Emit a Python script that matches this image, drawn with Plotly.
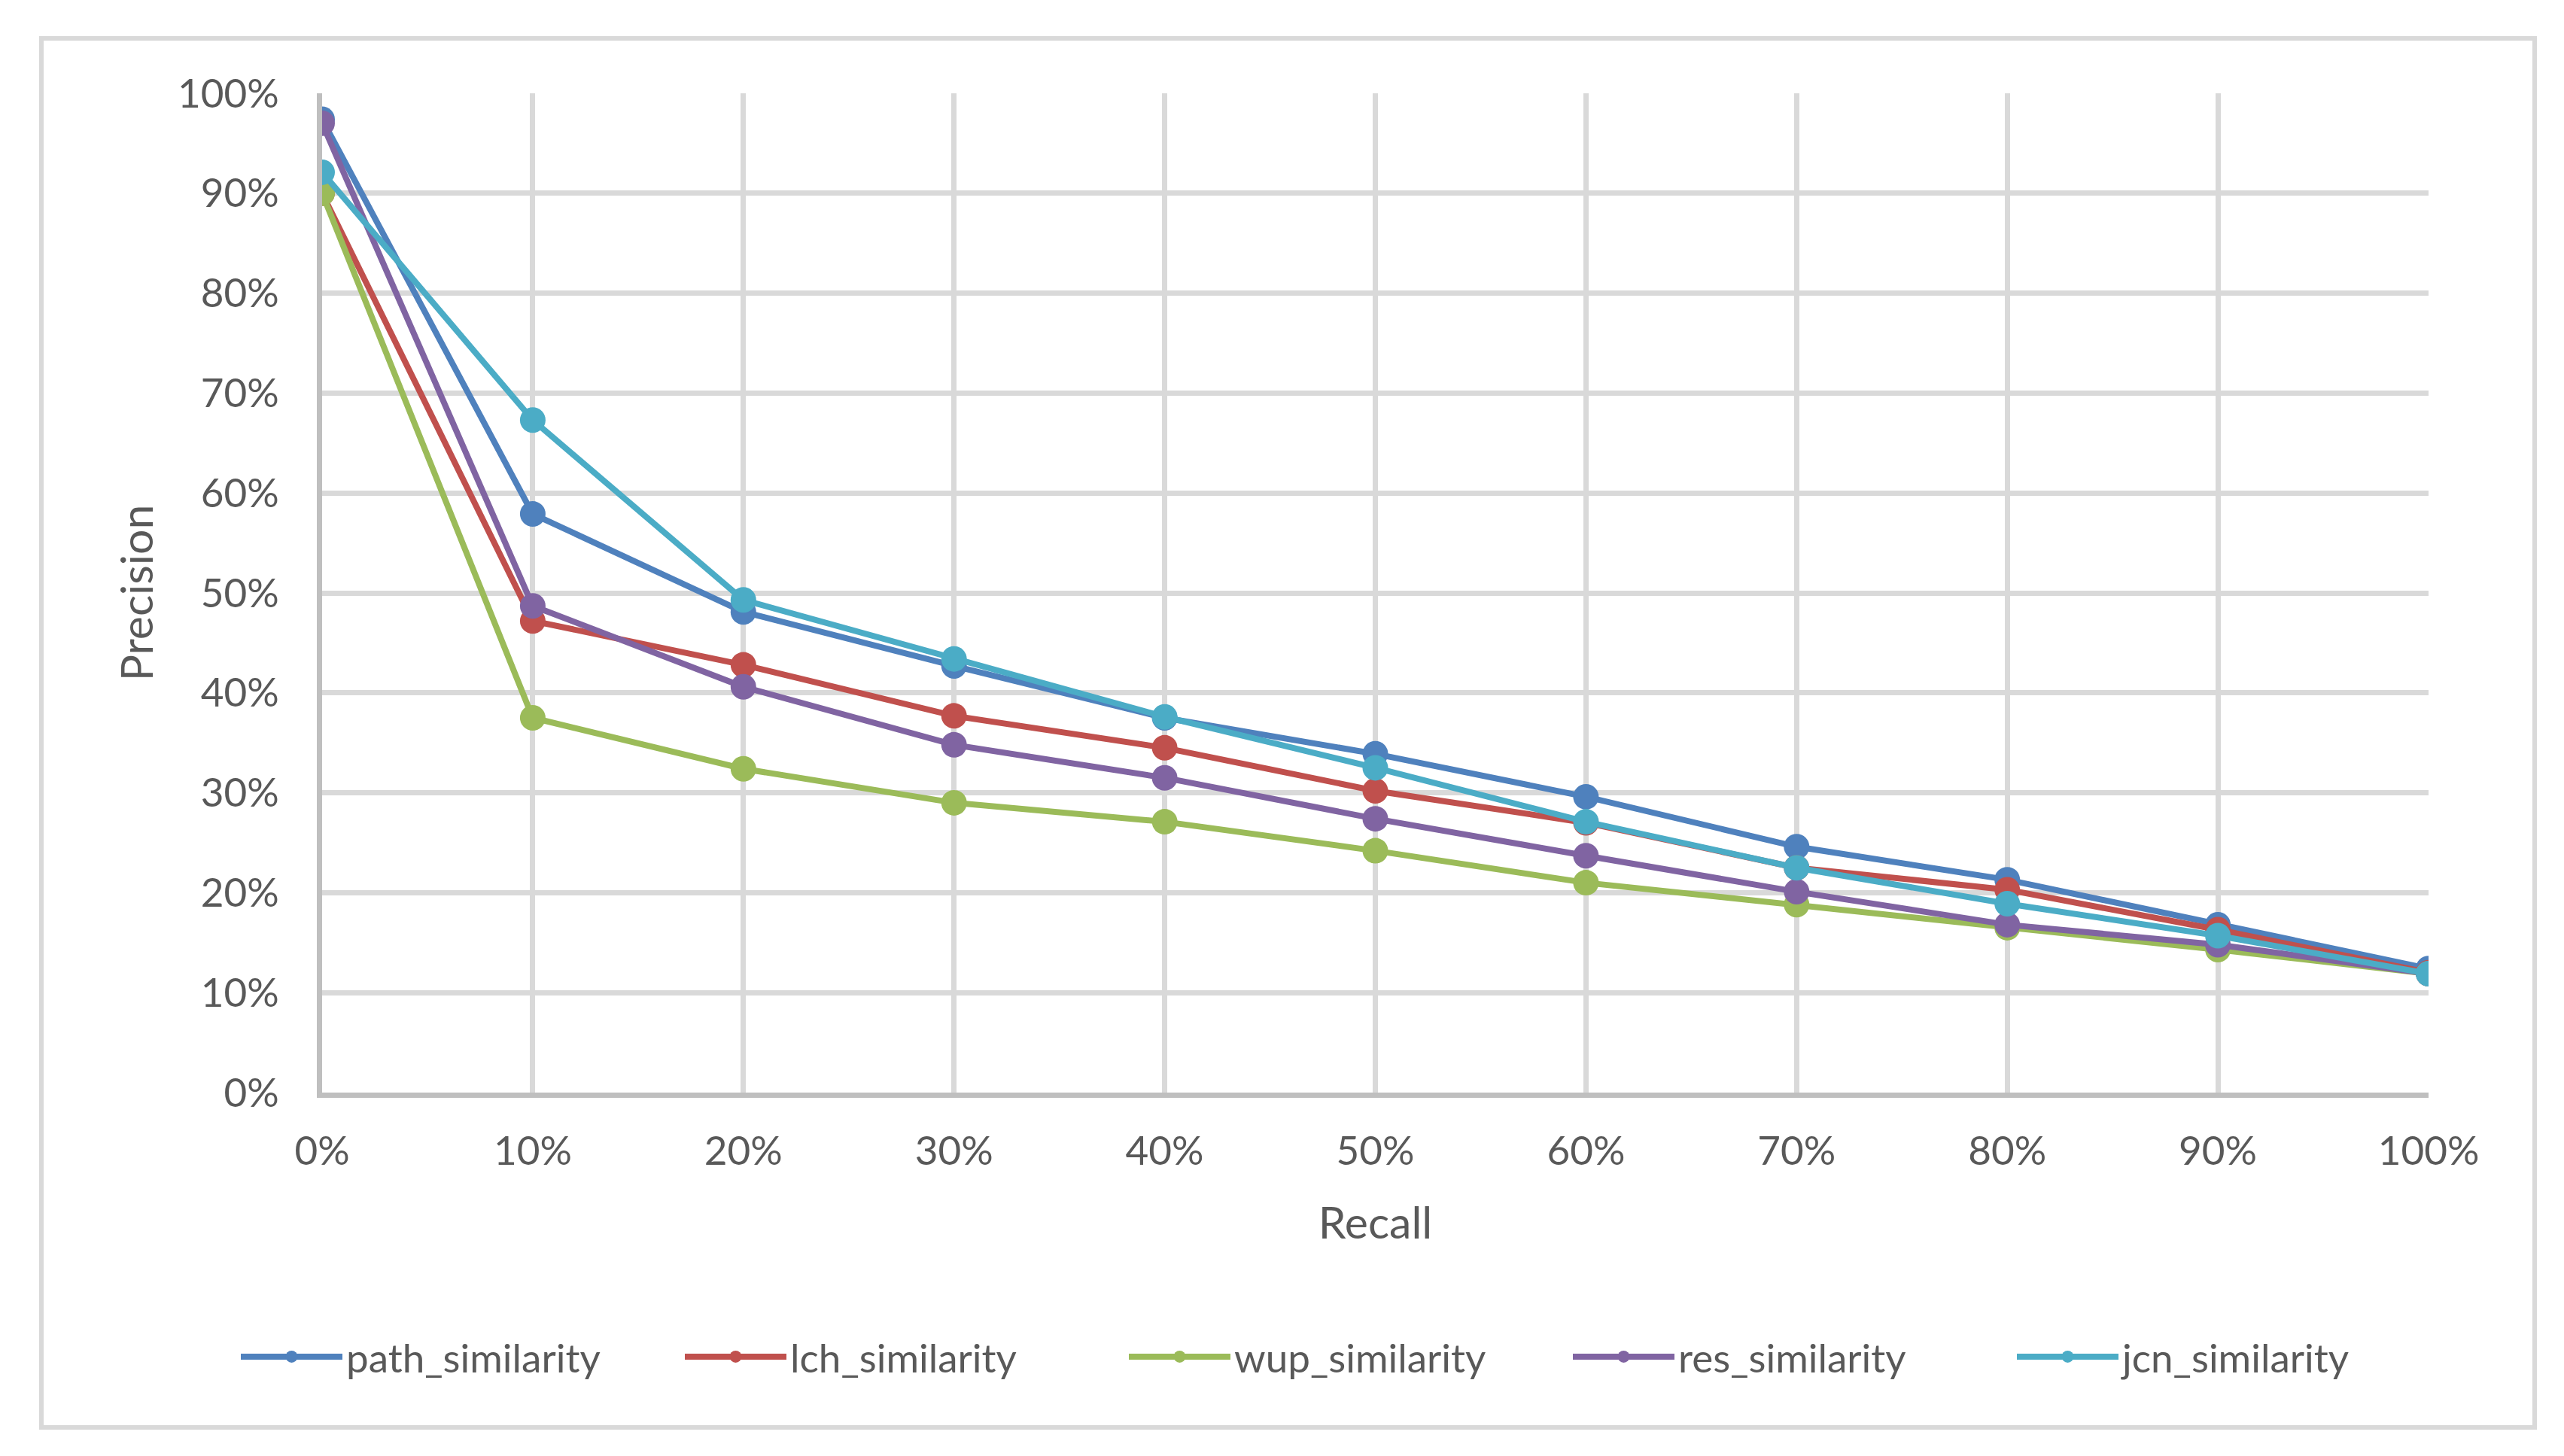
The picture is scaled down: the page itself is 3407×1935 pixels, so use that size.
import plotly.graph_objects as go

recall = [0.0, 0.1, 0.2, 0.3, 0.4, 0.5, 0.6, 0.7, 0.8, 0.9, 1.0]

path_similarity = [0.974, 0.579, 0.481, 0.427, 0.375, 0.339, 0.296, 0.246, 0.213, 0.168, 0.124]
lch_similarity = [0.900, 0.472, 0.428, 0.377, 0.345, 0.302, 0.270, 0.225, 0.203, 0.163, 0.120]
wup_similarity = [0.900, 0.375, 0.324, 0.290, 0.271, 0.242, 0.210, 0.188, 0.165, 0.143, 0.119]
res_similarity = [0.970, 0.487, 0.406, 0.348, 0.315, 0.274, 0.237, 0.201, 0.168, 0.148, 0.119]
jcn_similarity = [0.921, 0.673, 0.493, 0.434, 0.376, 0.325, 0.271, 0.225, 0.189, 0.157, 0.119]

series_names = ["path_similarity", "lch_similarity", "wup_similarity", "res_similarity", "jcn_similarity"]
series_values = [path_similarity, lch_similarity, wup_similarity, res_similarity, jcn_similarity]
series_colors = ["#4F81BD", "#C0504D", "#9BBB59", "#8064A2", "#4BACC6"]

tick_vals = [0.0, 0.1, 0.2, 0.3, 0.4, 0.5, 0.6, 0.7, 0.8, 0.9, 1.0]
tick_text = ["0%", "10%", "20%", "30%", "40%", "50%", "60%", "70%", "80%", "90%", "100%"]

W, H = 3407, 1935
L, R, T, B = 428, 3407 - 3227, 124, 1935 - 1452
pw, ph = W - L - R, H - T - B

FONT = "Lato"
TXT = "#595959"

fig = go.Figure()
for name, vals, col in zip(series_names, series_values, series_colors):
    fig.add_trace(go.Scatter(
        x=recall, y=vals, name=name, mode="lines+markers",
        line=dict(color=col, width=8),
        marker=dict(color=col, size=34, line=dict(width=0)),
    ))

# outer chart border
fig.add_shape(type="rect", xref="paper", yref="paper",
              x0=(55 - L) / pw, x1=(3368 - L) / pw,
              y0=(H - B - 1897) / ph, y1=(H - B - 51) / ph,
              line=dict(color="#D9D9D9", width=6), fillcolor="rgba(0,0,0,0)", layer="below")

fig.update_layout(
    width=W, height=H,
    margin=dict(l=L, r=R, t=T, b=B, pad=0),
    paper_bgcolor="white", plot_bgcolor="white",
    font=dict(family=FONT, color=TXT, size=53),
    showlegend=True,
    legend=dict(
        orientation="h", x=(315 - L) / pw, xanchor="left",
        y=(H - B - 1803) / ph, yanchor="middle",
        font=dict(family=FONT, size=53, color=TXT),
        itemwidth=135, itemsizing="trace",
        entrywidth=440, entrywidthmode="pixels",
        bgcolor="rgba(0,0,0,0)",
    ),
    xaxis=dict(
        range=[0, 1], tickvals=tick_vals, ticktext=tick_text,
        showgrid=True, gridcolor="#D9D9D9", gridwidth=6.5,
        showline=True, linecolor="#BFBFBF", linewidth=6.5,
        zeroline=False, ticks="outside", ticklen=26, tickcolor="rgba(0,0,0,0)",
        tickfont=dict(family=FONT, size=53, color=TXT),
        title=dict(text="Recall", font=dict(family=FONT, size=59, color=TXT), standoff=49),
    ),
    yaxis=dict(
        range=[0, 1], tickvals=tick_vals, ticktext=tick_text,
        showgrid=True, gridcolor="#D9D9D9", gridwidth=6.5,
        showline=True, linecolor="#BFBFBF", linewidth=6.5,
        zeroline=False, ticks="outside", ticklen=40, tickcolor="rgba(0,0,0,0)",
        tickfont=dict(family=FONT, size=53, color=TXT),
        title=dict(text="Precision", font=dict(family=FONT, size=59, color=TXT), standoff=16),
    ),
)

fig.write_html("out.html")
